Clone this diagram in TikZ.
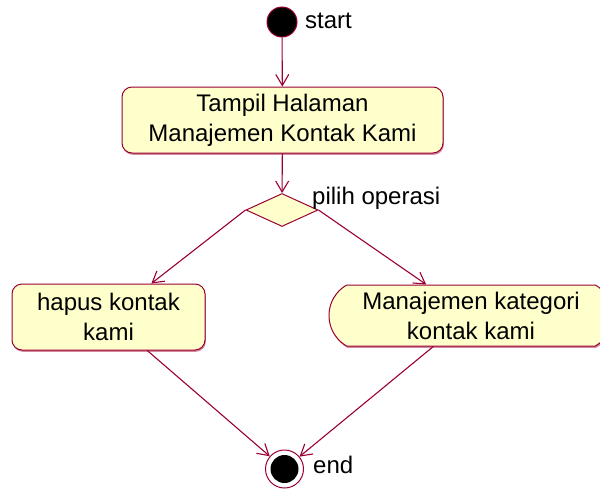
\documentclass[tikz,border=0pt]{standalone}
\usepackage{fontspec}
\setmainfont{Liberation Sans}
\usetikzlibrary{arrows.meta,shapes.geometric,shapes.misc,shadows}
\definecolor{umlline}{HTML}{990033}
\definecolor{umlfill}{HTML}{FFFFCC}
\definecolor{umlshade}{HTML}{D4889C}
\begin{document}
\begin{tikzpicture}[x=1pt,y=-1pt,
  font=\fontsize{24}{30}\selectfont,
  flow/.style={draw=umlline,line width=1.1pt,
    -{Straight Barb[length=11pt,width=13pt,line width=1.1pt]}},
  activity/.style={draw=umlline,fill=umlfill,line width=1pt,
    rounded corners=10pt,align=center,inner sep=0pt,
    general shadow={shadow xshift=0.8pt,shadow yshift=-1.8pt,fill=umlshade}},
  choice/.style={diamond,draw=umlline,fill=umlfill,line width=1pt,
    minimum width=72pt,minimum height=33pt,inner sep=0pt},
  caption/.style={anchor=west,inner sep=0pt}]
\useasboundingbox (0,0) rectangle (600,493);

% initial and final states
\node[circle,fill=black,draw=umlline,line width=1pt,minimum size=30pt,inner sep=0pt] (start) at (282,22) {};
\node[caption] (startlbl) at (305,21) {start};
\node[circle,draw=umlline,line width=1pt,fill=white,minimum size=38pt,inner sep=0pt] (end) at (284.5,469) {};
\fill[black] (end.center) circle (14pt);
\node[caption] (endlbl) at (313,465) {end};

% activities
\node[activity,minimum width=321pt,minimum height=66pt] (show) at (282.5,120)
  {Tampil Halaman\\Manajemen Kontak Kami};
\node[choice] (pick) at (282,210) {};
\node[caption] (picklbl) at (312,198) {pilih operasi};
\node[activity,minimum width=193pt,minimum height=66pt] (hapus) at (108.5,317)
  {hapus kontak\\kami};
\node[activity,rounded corners=0pt,rounded rectangle,rounded rectangle arc length=120,
  minimum width=284pt,minimum height=61pt] (kategori) at (471,315.5)
  {Manajemen kategori\\kontak kami};

% transitions
\draw[flow] (start) -- (show);
\draw[flow] (show) -- (pick);
\draw[flow] (pick.west) -- (hapus);
\draw[flow] (pick.east) -- (kategori);
\draw[flow] (hapus) -- (end);
\draw[flow] (kategori) -- (end);
\end{tikzpicture}
\end{document}
